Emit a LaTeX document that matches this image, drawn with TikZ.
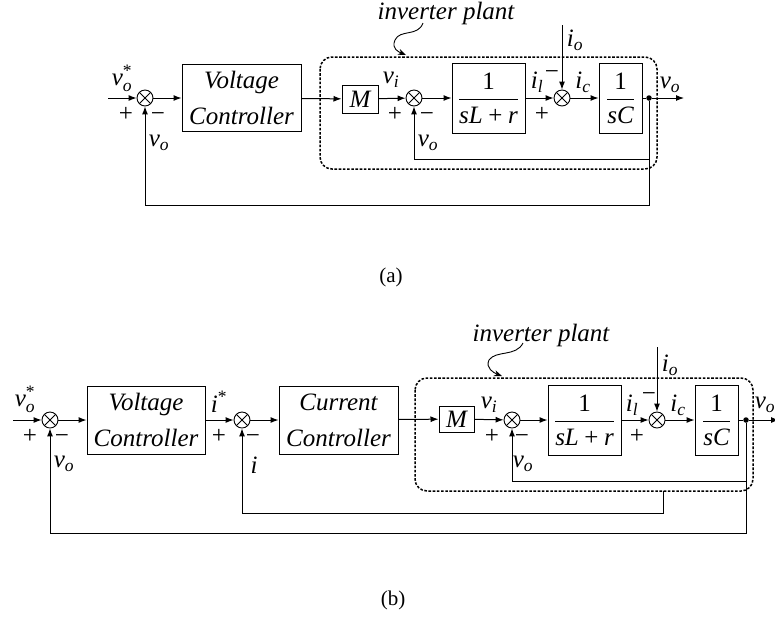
\documentclass[tikz,border=0pt]{standalone}
\usepackage{amsmath}
\usepackage{fontspec}
\setmainfont{Liberation Serif}
\usetikzlibrary{arrows.meta}
\newcommand\mi[1]{\textit{#1}}
\newcommand\up[1]{\textup{#1}}
\tikzset{
  blk/.style={draw, line width=1pt, inner sep=0pt, align=center,
    font=\fontsize{25}{36}\selectfont\itshape},
  sumj/.style={circle, draw, line width=0.9pt, minimum size=16pt, inner sep=0pt,
    path picture={\draw[line width=0.9pt]
      (path picture bounding box.north west)--(path picture bounding box.south east)
      (path picture bounding box.north east)--(path picture bounding box.south west);}},
  sig/.style={-{Latex[length=8pt,width=6pt]}, line width=1pt},
  wire/.style={line width=1pt},
  plant/.style={line width=1.5pt, dash pattern=on 2.6pt off 1.6pt, rounded corners=12pt},
  lbl/.style={inner sep=0pt, font=\fontsize{25}{30}\selectfont},
  figcap/.style={inner sep=0pt, font=\fontsize{21}{25}\selectfont},
  tapdot/.style={circle, fill, inner sep=0pt, minimum size=5.5pt},
  squig/.style={-{Stealth[length=8pt,width=6pt]}, line width=0.9pt},
}
\begin{document}
\begin{tikzpicture}[x=1pt, y=-1pt]
\useasboundingbox (0,0) rectangle (775,625);

% ---------------- (a) voltage loop around the inverter plant ----------------
\draw[plant] (320,57) rectangle (657,169);
\node[lbl] (pla) at (446,13) {\itshape inverter plant};
\draw[squig] (423,23) .. controls (418,37) and (400,29) .. (395,40)
  .. controls (391,49) and (399,52) .. (406,55);

\coordinate (ina) at (108,98);
\node[sumj] (sa1) at (145,98) {};
\node[blk, minimum width=119pt, minimum height=67pt] (vca) at (241.5,98) {Voltage\\Controller};
\node[blk, minimum width=36pt, minimum height=28pt] (Ma) at (360,99) {M};
\node[sumj] (sa2) at (414,98) {};
\node[blk, minimum width=73pt, minimum height=70pt] (Ga) at (488.5,98)
  {$\dfrac{\up{1}}{\mi{sL}\mathbin{\up{+}}\mi{r}}$};
\node[sumj] (sa3) at (562,98) {};
\node[blk, minimum width=43pt, minimum height=70pt] (Ca) at (620.5,98)
  {$\dfrac{\up{1}}{\mi{sC}}$};
\node[tapdot] (pa) at (649,98) {};
\coordinate (outa) at (684,98);
\coordinate (ioa) at (562,25);
\coordinate (fa1) at (649,159);
\coordinate (fa2) at (649,205);

\draw[sig] (ina) -- (sa1);
\draw[sig] (sa1) -- (vca);
\draw[sig] (vca) -- (Ma);
\draw[sig] (Ma) -- (sa2);
\draw[sig] (sa2) -- (Ga);
\draw[sig] (Ga) -- (sa3);
\draw[sig] (sa3) -- (Ca);
\draw[wire] (Ca) -- (pa);
\draw[sig] (pa) -- (outa);
\draw[sig] (ioa) -- (sa3);
\draw[sig] (pa) -- (fa1) -| (sa2);
\draw[sig] (pa) -- (fa2) -| (sa1);

\node[lbl] at (122,78) {$\mi{v}_{\mi{o}}^{\up{*}}$};
\node[lbl] at (126,114) {+};
\node[lbl] at (158,117) {−};
\node[lbl] at (159,143) {$\mi{v}_{\mi{o}}$};
\node[lbl] at (391,80) {$\mi{v}_{\mi{i}}$};
\node[lbl] at (395,114) {+};
\node[lbl] at (427,117) {−};
\node[lbl] at (428,143) {$\mi{v}_{\mi{o}}$};
\node[lbl] at (537,82) {$\mi{i}_{\mi{l}}$};
\node[lbl] at (552,75) {−};
\node[lbl] at (542,114) {+};
\node[lbl] at (583,82) {$\mi{i}_{\mi{c}}$};
\node[lbl] at (575,40) {$\mi{i}_{\mi{o}}$};
\node[lbl] at (670,85) {$\mi{v}_{\mi{o}}$};
\node[figcap] at (391,277) {(a)};

% ---------------- (b) cascaded voltage and current loops ----------------
\draw[plant] (415,378) rectangle (753,491);
\node[lbl] (plb) at (541,335) {\itshape inverter plant};
\draw[squig] (523,343) .. controls (516,357) and (496,350) .. (489,360)
  .. controls (485,368) and (494,373) .. (502,376);

\coordinate (inb) at (13,420);
\node[sumj] (sb1) at (50,420) {};
\node[blk, minimum width=118pt, minimum height=68pt] (vcb) at (146,420) {Voltage\\Controller};
\node[sumj] (sb2) at (242,420) {};
\node[blk, minimum width=119pt, minimum height=68pt] (ccb) at (338.5,420) {Current\\Controller};
\node[blk, minimum width=35pt, minimum height=26pt] (Mb) at (456.5,419) {M};
\node[sumj] (sb3) at (512,420) {};
\node[blk, minimum width=73pt, minimum height=70pt] (Gb) at (584.5,420)
  {$\dfrac{\up{1}}{\mi{sL}\mathbin{\up{+}}\mi{r}}$};
\node[sumj] (sb4) at (657,420) {};
\node[blk, minimum width=43pt, minimum height=70pt] (Cb) at (716.5,420)
  {$\dfrac{\up{1}}{\mi{sC}}$};
\node[tapdot] (pb) at (746,420) {};
\coordinate (outb) at (779,420);
\coordinate (iob) at (657,347);
\coordinate (fb1) at (746,481);
\coordinate (fb2) at (746,533);
\coordinate (ib0) at (663,491);
\coordinate (ib1) at (663,513);

\draw[sig] (inb) -- (sb1);
\draw[sig] (sb1) -- (vcb);
\draw[sig] (vcb) -- (sb2);
\draw[sig] (sb2) -- (ccb);
\draw[sig] (ccb) -- (Mb);
\draw[sig] (Mb) -- (sb3);
\draw[sig] (sb3) -- (Gb);
\draw[sig] (Gb) -- (sb4);
\draw[sig] (sb4) -- (Cb);
\draw[wire] (Cb) -- (pb);
\draw[sig] (pb) -- (outb);
\draw[sig] (iob) -- (sb4);
\draw[sig] (pb) -- (fb1) -| (sb3);
\draw[sig] (ib0) -- (ib1) -| (sb2);
\draw[sig] (pb) -- (fb2) -| (sb1);

\node[lbl] at (25,399) {$\mi{v}_{\mi{o}}^{\up{*}}$};
\node[lbl] at (30,436) {+};
\node[lbl] at (62,439) {−};
\node[lbl] at (64,464) {$\mi{v}_{\mi{o}}$};
\node[lbl] at (219,402) {$\mi{i}^{\up{*}}$};
\node[lbl] at (219,436) {+};
\node[lbl] at (253,439) {−};
\node[lbl] at (254,465) {\itshape i};
\node[lbl] at (489,405) {$\mi{v}_{\mi{i}}$};
\node[lbl] at (492,436) {+};
\node[lbl] at (522,439) {−};
\node[lbl] at (523,464) {$\mi{v}_{\mi{o}}$};
\node[lbl] at (632,405) {$\mi{i}_{\mi{l}}$};
\node[lbl] at (649,397) {−};
\node[lbl] at (637,436) {+};
\node[lbl] at (678,405) {$\mi{i}_{\mi{c}}$};
\node[lbl] at (670,365) {$\mi{i}_{\mi{o}}$};
\node[lbl] at (765,405) {$\mi{v}_{\mi{o}}$};
\node[figcap] at (393,600) {(b)};
\end{tikzpicture}
\end{document}
